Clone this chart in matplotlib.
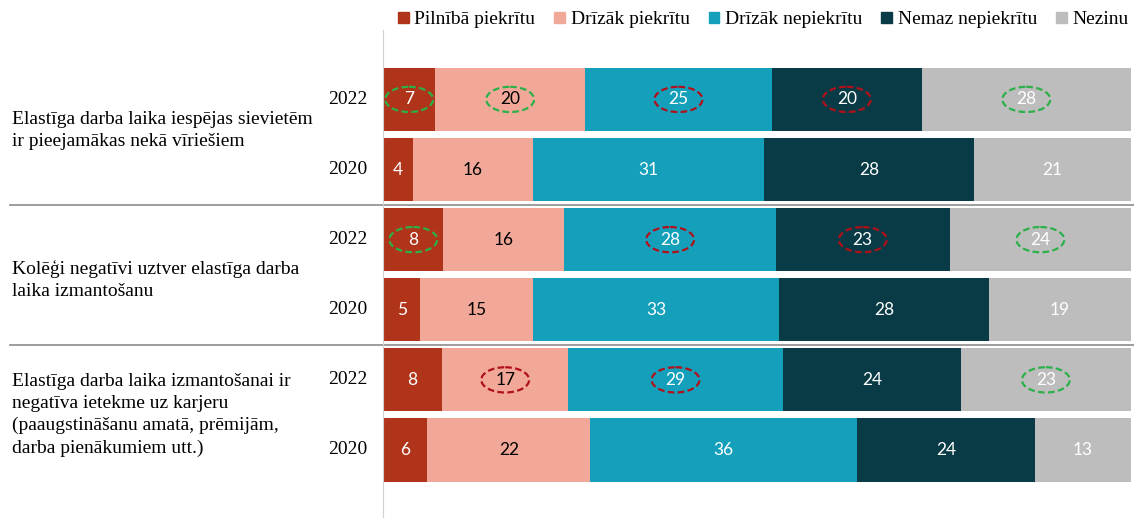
import matplotlib.pyplot as plt
import matplotlib.transforms as mtransforms
from matplotlib.patches import Ellipse, Patch
import numpy as np

# kategorijas un gadi
jautajumi = ["Elastīga darba laika iespējas sievietēm\nir pieejamākas nekā vīriešiem",
             "Kolēģi negatīvi uztver elastīga darba\nlaika izmantošanu",
             "Elastīga darba laika izmantošanai ir\nnegatīva ietekme uz karjeru\n(paaugstināšanu amatā, prēmijām,\ndarba pienākumiem utt.)"]
gadi = ["2022", "2020", "2022", "2020", "2022", "2020"]
sērijas = ["Pilnībā piekrītu", "Drīzāk piekrītu", "Drīzāk nepiekrītu", "Nemaz nepiekrītu", "Nezinu"]

pilniba = [7, 4, 8, 5, 8, 6]
drizak_p = [20, 16, 16, 15, 17, 22]
drizak_n = [25, 31, 28, 33, 29, 36]
nemaz = [20, 28, 23, 28, 24, 24]
nezinu = [28, 21, 24, 19, 23, 13]

# iezīmētās vērtības: (rinda, sērija) -> krāsa
apvilkti = {(0, 0): "g", (0, 1): "g", (0, 2): "r", (0, 3): "r", (0, 4): "g",
            (2, 0): "g", (2, 2): "r", (2, 3): "r", (2, 4): "g",
            (4, 1): "r", (4, 2): "r", (4, 4): "g"}

krasas = ["#B0341A", "#F2A898", "#14A0BB", "#083B45", "#BDBDBD"]
teksta_krasas = ["white", "black", "white", "white", "white"]
apl_krasas = {"g": "#2BB04A", "r": "#B0101A"}

plt.rcParams["font.family"] = ["Liberation Serif"]

fig = plt.figure(figsize=(11.34, 5.18), dpi=100)
ax = fig.add_axes([383 / 1134, 0, 748 / 1134, 1 - 30 / 518])

dati = np.array([pilniba, drizak_p, drizak_n, nemaz, nezinu], dtype=float)
proc = dati / dati.sum(axis=0) * 100
y = np.arange(len(gadi))

kreisais = np.zeros(len(gadi))
for i in range(len(sērijas)):
    ax.barh(y, proc[i], left=kreisais, height=0.9, color=krasas[i], label=sērijas[i])
    for r in range(len(gadi)):
        xc = kreisais[r] + proc[i][r] / 2
        ax.text(xc, y[r], str(int(dati[i][r])), ha="center", va="center",
                fontsize=12.5, color=teksta_krasas[i], family="Lato")
        if (r, i) in apvilkti:
            ax.add_patch(Ellipse((xc, y[r]), width=6.4, height=0.36, fill=False,
                                 edgecolor=apl_krasas[apvilkti[(r, i)]],
                                 linestyle=(0, (3, 1.5)), linewidth=1.6))
    kreisais += proc[i]

ax.set_xlim(0, 100)
ax.set_ylim(5 + 0.97, -0.99)
ax.set_xticks([])
ax.set_yticks([])
for s in ["top", "right", "bottom"]:
    ax.spines[s].set_visible(False)
ax.spines["left"].set_color("#D0D0D0")

# gadi
for r in range(len(gadi)):
    ax.text(-2.1, y[r], gadi[r], ha="right", va="center", fontsize=14)

# jautājumi un atdalītāji
trans = mtransforms.blended_transform_factory(fig.transFigure, ax.transData)
nobide = [-0.05, 0.07, 0.0]
for g in range(3):
    ax.text(12 / 1134, 2 * g + 0.5 + nobide[g], jautajumi[g],
            transform=trans, ha="left", va="center", fontsize=14, linespacing=1.38)
for yy in [1.5, 3.5]:
    ax.plot([10 / 1134, 1], [yy, yy], transform=trans, color="#8C8C8C", lw=1.2, clip_on=False)

fig.legend(handles=[Patch(color=c) for c in krasas], labels=sērijas, loc="center right",
           bbox_to_anchor=(1129 / 1134, 1 - 20 / 518), ncol=5, frameon=False, fontsize=14,
           borderpad=0, borderaxespad=0,
           handlelength=0.55, handleheight=0.55, handletextpad=0.3, columnspacing=0.97)

fig.savefig("out.png", dpi=100)
